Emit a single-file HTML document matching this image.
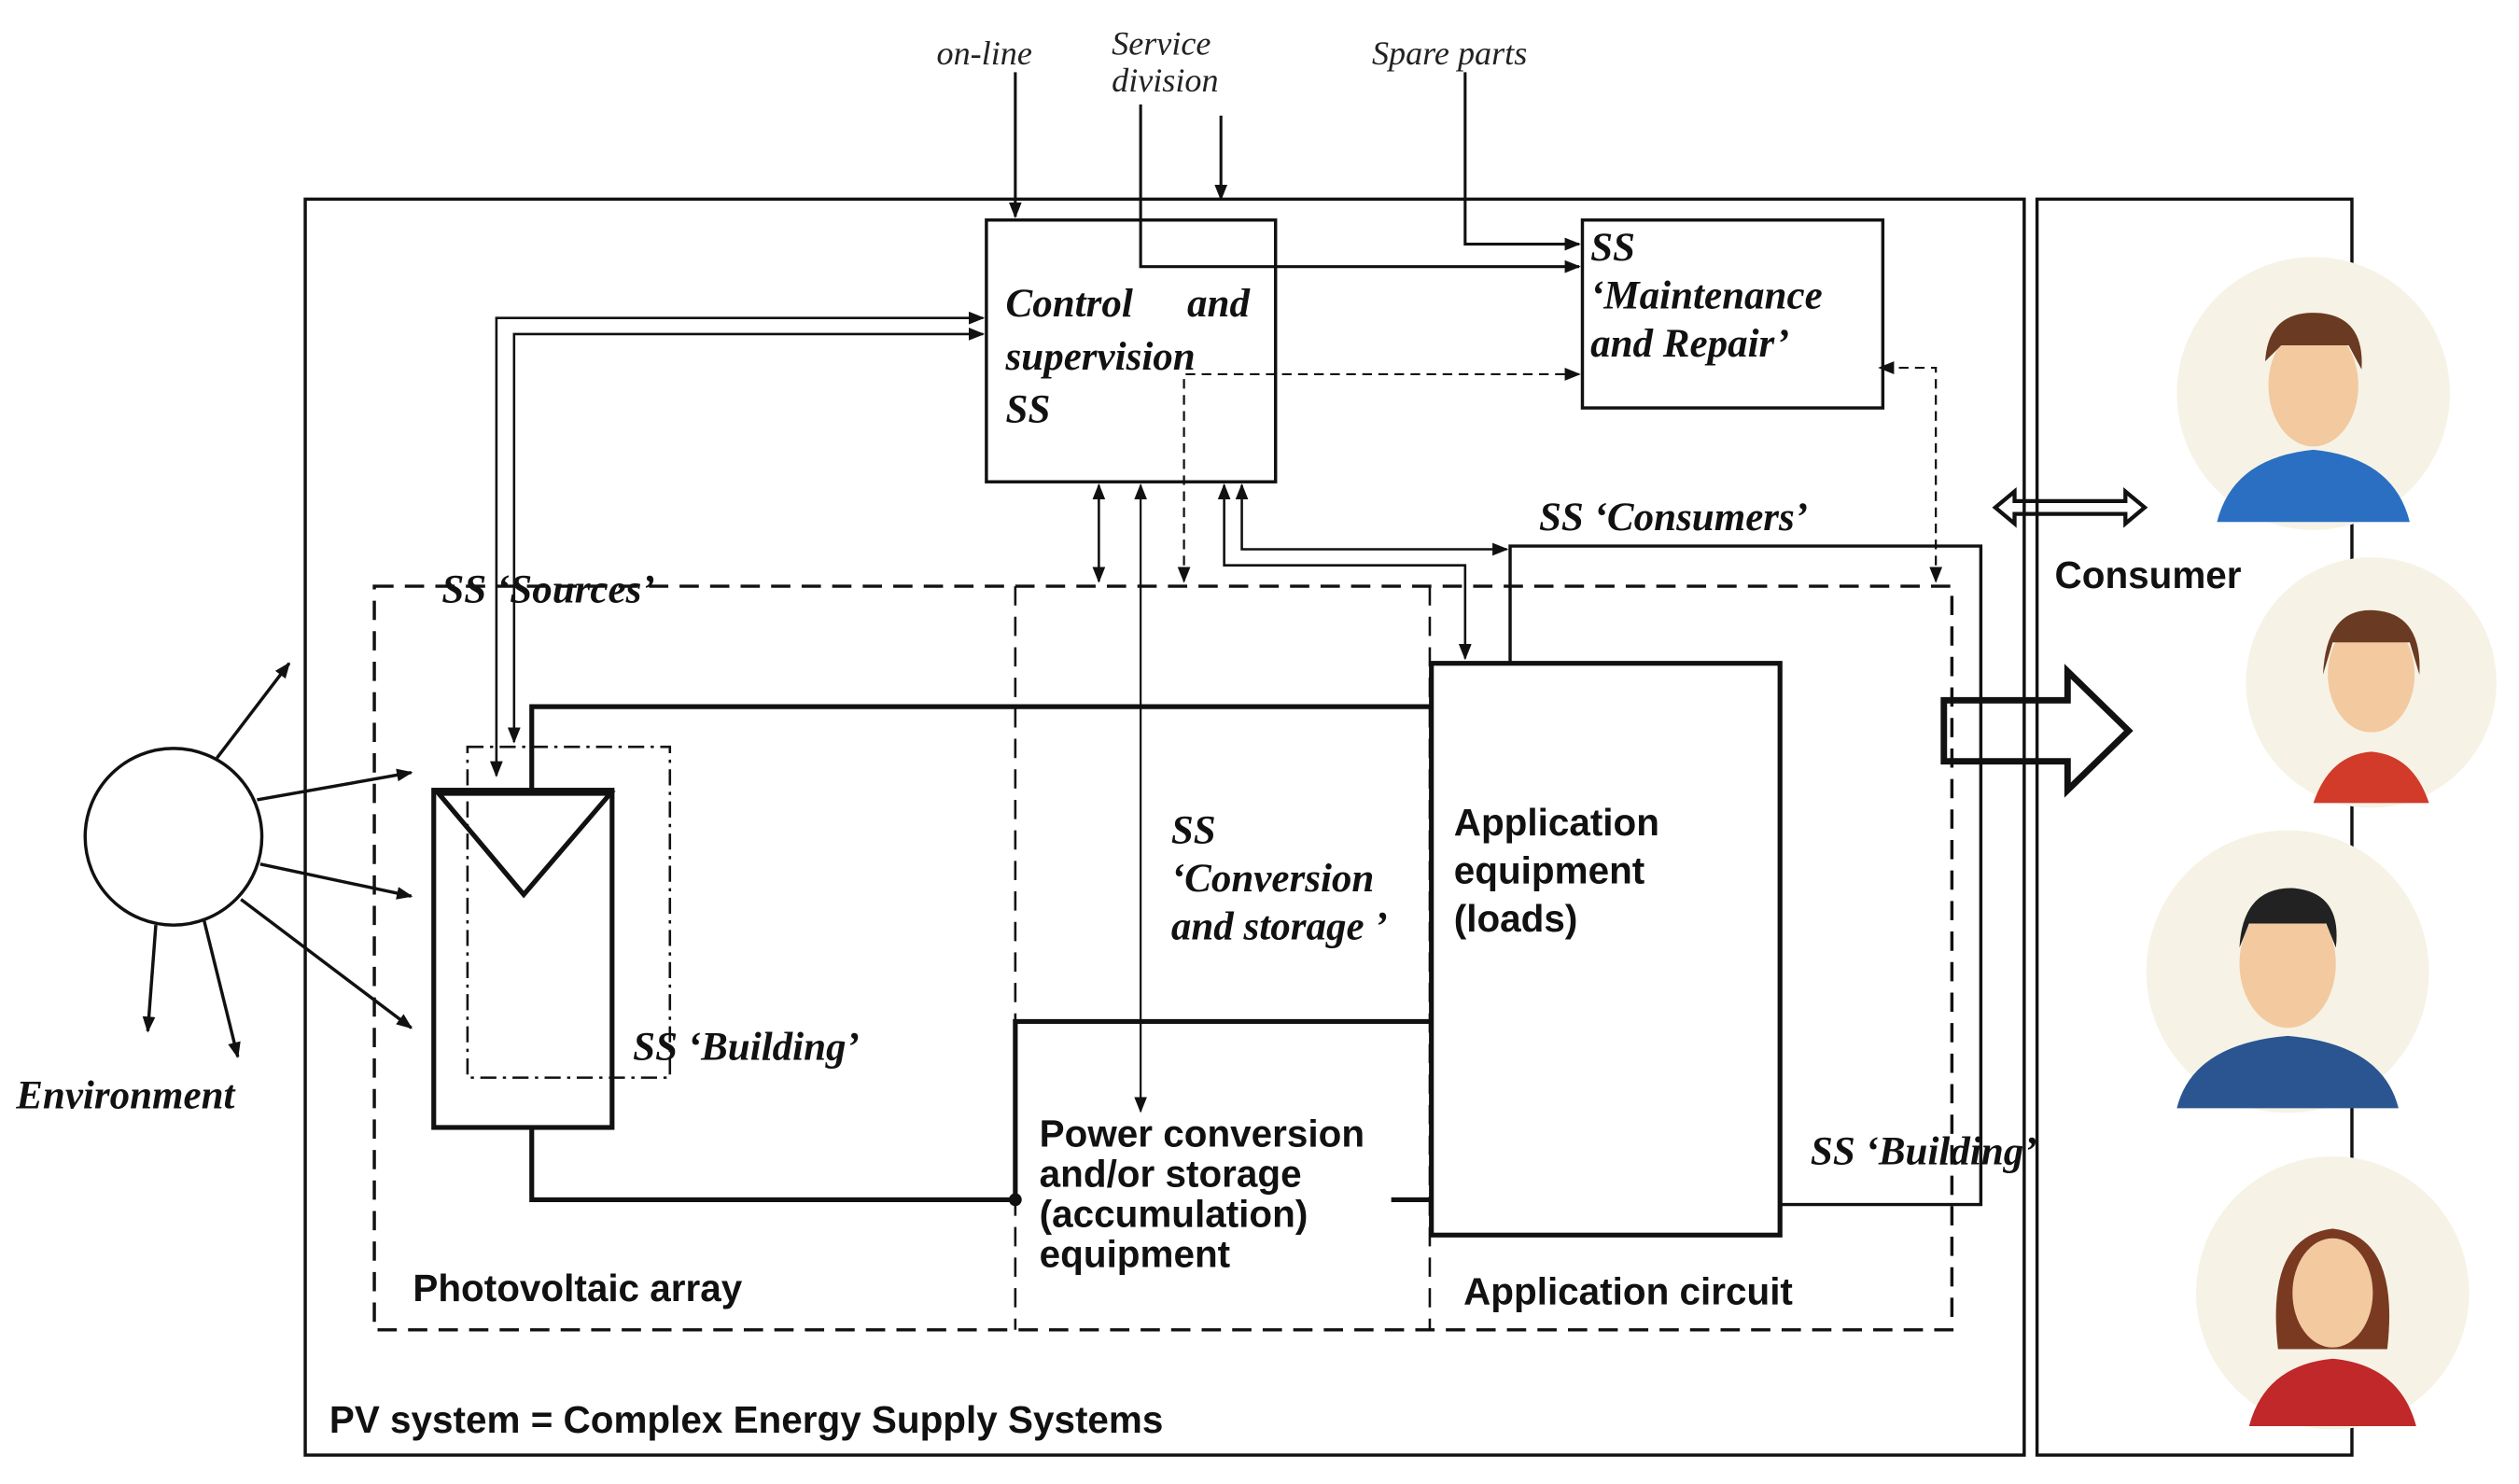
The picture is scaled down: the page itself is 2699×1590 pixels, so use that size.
<!DOCTYPE html>
<html><head><meta charset="utf-8"><style>
html,body{margin:0;padding:0;background:#fff}
svg{display:block}
.s{font-family:"Liberation Serif",serif;font-style:italic;font-weight:bold;font-size:25px;fill:#111}
.n{font-family:"Liberation Serif",serif;font-style:italic;font-size:21px;fill:#222}
.a{font-family:"Liberation Sans",sans-serif;font-weight:bold;font-size:23.5px;fill:#111}
</style></head><body>
<svg width="2699" height="1590" viewBox="0 0 1568 924" preserveAspectRatio="none" xmlns="http://www.w3.org/2000/svg">
<defs>
<marker id="ar" markerWidth="10" markerHeight="8" refX="9" refY="4" orient="auto-start-reverse" markerUnits="userSpaceOnUse"><path d="M0,0 L10,4 L0,8 z" fill="#111"/></marker>
</defs>
<g fill="none" stroke="#111">
<rect x="190" y="124" width="1070" height="782" stroke-width="2"/>
<rect x="1268" y="124" width="196" height="782" stroke-width="2"/>
<rect x="614" y="137" width="180" height="163" stroke-width="2"/>
<rect x="985" y="137" width="187" height="117" stroke-width="2"/>
<rect x="233" y="365" width="982" height="463" stroke-width="2" stroke-dasharray="12,7"/>
<line x1="632" y1="365" x2="632" y2="828" stroke-width="1.5" stroke-dasharray="12,7"/>
<line x1="890" y1="365" x2="890" y2="828" stroke-width="1.5" stroke-dasharray="12,7"/>
<rect x="291" y="465" width="126" height="206" stroke-width="1.5" stroke-dasharray="10,4,2,4"/>
<rect x="270" y="492" width="111" height="210" stroke-width="3"/>
<path d="M273,494 L380,494 L326,557 Z" stroke-width="3"/>
<rect x="891" y="413" width="217" height="356" stroke-width="3"/>
<path d="M331,492 V440 H891" stroke-width="3"/>
<path d="M331,702 V747 H632" stroke-width="3"/>
<path d="M632,747 V636 H891" stroke-width="3"/>
<path d="M866,747 H891" stroke-width="3"/>
<path d="M940,413 V340 H1233 V750 H1108" stroke-width="2"/>
<circle cx="108" cy="521" r="55" stroke-width="2"/>
<line x1="135" y1="472" x2="180" y2="413" stroke-width="2" marker-end="url(#ar)"/>
<line x1="160" y1="498" x2="256" y2="481" stroke-width="2" marker-end="url(#ar)"/>
<line x1="162" y1="538" x2="256" y2="558" stroke-width="2" marker-end="url(#ar)"/>
<line x1="150" y1="560" x2="256" y2="640" stroke-width="2" marker-end="url(#ar)"/>
<line x1="97" y1="576" x2="92" y2="642" stroke-width="2" marker-end="url(#ar)"/>
<line x1="127" y1="573" x2="148" y2="658" stroke-width="2" marker-end="url(#ar)"/>
<line x1="632" y1="45" x2="632" y2="135" stroke-width="1.8" marker-end="url(#ar)"/>
<line x1="760" y1="72" x2="760" y2="124" stroke-width="1.8" marker-end="url(#ar)"/>
<path d="M710,65 V166 H983" stroke-width="1.8" marker-end="url(#ar)"/>
<path d="M912,45 V152 H983" stroke-width="1.8" marker-end="url(#ar)"/>
<path d="M309,483 V198 H612" stroke-width="1.5" marker-end="url(#ar)" marker-start="url(#ar)"/>
<path d="M320,462 V208 H612" stroke-width="1.5" marker-end="url(#ar)" marker-start="url(#ar)"/>
<line x1="684" y1="302" x2="684" y2="362" stroke-width="1.5" marker-end="url(#ar)" marker-start="url(#ar)"/>
<line x1="710" y1="302" x2="710" y2="692" stroke-width="1.3" marker-end="url(#ar)" marker-start="url(#ar)"/>
<path d="M762,302 V352 H912 V410" stroke-width="1.5" marker-end="url(#ar)" marker-start="url(#ar)"/>
<path d="M773,302 V342 H938" stroke-width="1.5" marker-end="url(#ar)" marker-start="url(#ar)"/>
<path d="M737,362 V233 H983" stroke-width="1.3" stroke-dasharray="6,4" marker-end="url(#ar)" marker-start="url(#ar)"/>
<path d="M1205,362 V229 H1170" stroke-width="1.3" stroke-dasharray="6,4" marker-end="url(#ar)" marker-start="url(#ar)"/>
<path d="M1210,436 H1287 V418 L1325,455 L1287,492 V474 H1210 Z" stroke-width="4"/>
<path d="M1242,316 L1254,306 V312 H1323 V306 L1335,316 L1323,326 V320 H1254 V326 Z" stroke-width="2.5"/>
</g>
<circle cx="632" cy="747" r="4" fill="#111"/>
<text class="n" x="583" y="40">on-line</text>
<text class="n" x="692" y="34">Service</text>
<text class="n" x="692" y="57">division</text>
<text class="n" x="854" y="40">Spare parts</text>
<text class="s" x="626" y="197">Control</text><text class="s" x="739" y="197">and</text>
<text class="s" x="626" y="230">supervision</text>
<text class="s" x="626" y="263">SS</text>
<text class="s" x="990" y="162">SS</text>
<text class="s" x="990" y="192">‘Maintenance</text>
<text class="s" x="990" y="222">and Repair’</text>
<text class="s" x="958" y="330">SS ‘Consumers’</text>
<text class="s" x="275" y="375">SS ‘Sources’</text>
<text class="s" x="394" y="660">SS ‘Building’</text>
<text class="s" x="729" y="525">SS</text>
<text class="s" x="729" y="555">‘Conversion</text>
<text class="s" x="729" y="585">and storage ’</text>
<text class="s" x="1127" y="725">SS ‘Building’</text>
<text class="s" x="10" y="690">Environment</text>
<text class="a" x="905" y="520">Application</text>
<text class="a" x="905" y="550">equipment</text>
<text class="a" x="905" y="580">(loads)</text>
<text class="a" x="647" y="714">Power conversion</text>
<text class="a" x="647" y="739">and/or storage</text>
<text class="a" x="647" y="764">(accumulation)</text>
<text class="a" x="647" y="789">equipment</text>
<text class="a" x="257" y="810">Photovoltaic array</text>
<text class="a" x="911" y="812">Application circuit</text>
<text class="a" x="205" y="892">PV system = Complex Energy Supply Systems</text>
<text class="a" x="1279" y="366">Consumer</text>
<g>
<circle cx="1440" cy="245" r="85" fill="#f6f3e6"/>
<path d="M1380,325 Q1390,285 1440,280 Q1490,285 1500,325 Z" fill="#2a6fc2"/>
<ellipse cx="1440" cy="240" rx="28" ry="38" fill="#f3c9a0"/>
<path d="M1410,225 Q1412,192 1445,195 Q1472,198 1470,230 L1462,215 L1420,215 Z" fill="#6b3a22"/>
<circle cx="1476" cy="425" r="78" fill="#f6f3e6"/>
<path d="M1440,500 Q1450,470 1476,468 Q1502,470 1512,500 Z" fill="#d23a2a"/>
<ellipse cx="1476" cy="420" rx="27" ry="36" fill="#f3c9a0"/>
<path d="M1446,420 Q1448,378 1478,380 Q1508,382 1506,420 L1500,400 L1452,400 Z" fill="#6b3a22"/>
<circle cx="1424" cy="605" r="88" fill="#f6f3e6"/>
<path d="M1355,690 Q1365,650 1424,645 Q1483,650 1493,690 Z" fill="#2a5590"/>
<ellipse cx="1424" cy="600" rx="30" ry="40" fill="#f3c9a0"/>
<path d="M1394,590 Q1396,552 1428,553 Q1458,556 1454,590 L1448,575 L1400,575 Z" fill="#222"/>
<circle cx="1452" cy="805" r="85" fill="#f6f3e6"/>
<path d="M1400,888 Q1410,850 1452,846 Q1494,850 1504,888 Z" fill="#c0282a"/>
<path d="M1418,840 Q1410,770 1452,765 Q1494,770 1486,840 Z" fill="#7a3a22"/>
<ellipse cx="1452" cy="805" rx="25" ry="34" fill="#f3c9a0"/>
</g>
</svg>
</body></html>
